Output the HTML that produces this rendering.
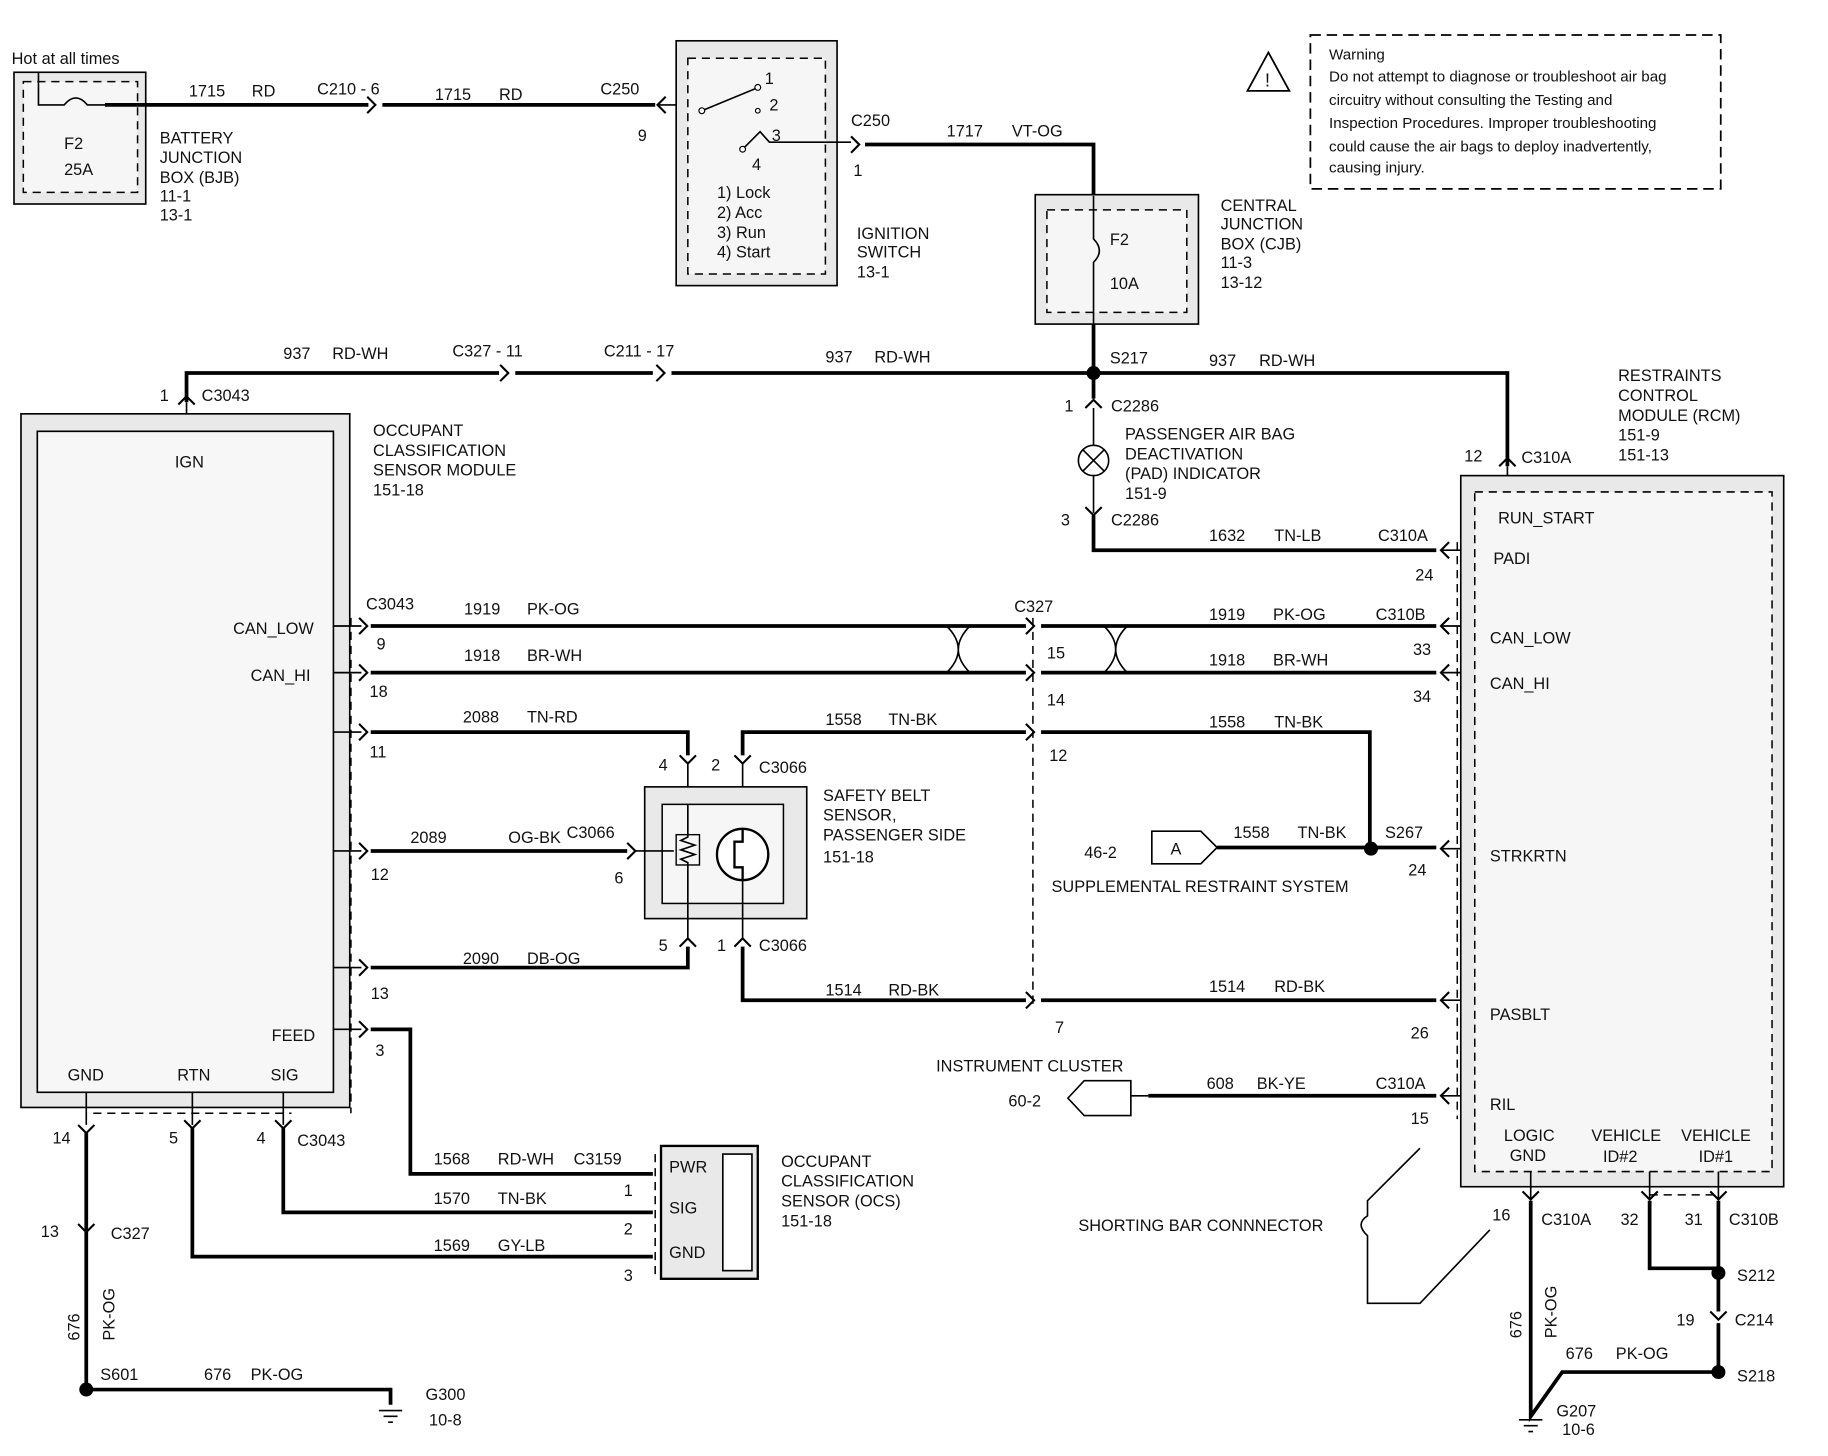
<!DOCTYPE html>
<html><head><meta charset="utf-8"><style>
html,body{margin:0;padding:0;background:#fff;}
svg{display:block;}
text{font-family:"Liberation Sans",Arial,sans-serif;font-size:14px;fill:#111;}
.w{stroke:#000;stroke-width:3.2;fill:none;}
.t{stroke:#000;stroke-width:1.4;fill:none;}
.d{stroke:#000;stroke-width:1.3;fill:none;stroke-dasharray:7 5;}
.a{stroke:#000;stroke-width:1.8;fill:none;}
.box{fill:#e9e9e9;stroke:#000;stroke-width:1.4;}
.inb{fill:#f6f6f6;stroke:#000;stroke-width:1.3;stroke-dasharray:7 5;}
.sm{font-size:13px;}
</style></head><body>
<svg width="1828" height="1456" viewBox="0 0 1568 1249" preserveAspectRatio="none" xmlns="http://www.w3.org/2000/svg">
<!-- BJB -->
<text x="10" y="55">Hot at all times</text>
<rect class="box" x="12" y="62" width="113" height="113"/>
<rect class="inb" x="20" y="70" width="98" height="95"/>
<path class="t" d="M33 62 V90 H55 Q65 78 75 90 H125"/>
<text x="55" y="128">F2</text><text x="55" y="150">25A</text>
<text x="137" y="123">BATTERY</text><text x="137" y="140">JUNCTION</text><text x="137" y="157">BOX (BJB)</text><text x="137" y="173">11-1</text><text x="137" y="189">13-1</text>
<path class="w" d="M90 90 H316"/><path class="a" d="M315 83 L322 90 L315 97"/>
<path class="w" d="M328 90 H562"/><path class="a" d="M571 83 L564 90 L571 97"/><path class="t" d="M564 90 H602"/>
<text x="162" y="83">1715</text><text x="216" y="83">RD</text><text x="272" y="81">C210 - 6</text>
<text x="373" y="86">1715</text><text x="428" y="86">RD</text><text x="515" y="81">C250</text><text x="547" y="121">9</text>
<!-- Ignition -->
<rect class="box" x="580" y="35" width="138" height="210"/>
<rect class="inb" x="590" y="50" width="118" height="185"/>
<path class="t" d="M602 95 L648 76"/><circle cx="602" cy="95" r="2.5" fill="#fff" stroke="#000"/>
<circle cx="650" cy="75" r="2.5" fill="#fff" stroke="#000"/><text x="656" y="72">1</text>
<circle cx="650" cy="95" r="2" fill="#fff" stroke="#000"/><text x="660" y="95">2</text>
<path class="t" d="M637 128 L652 113 L660 122 H730"/><circle cx="637" cy="128" r="2.5" fill="#fff" stroke="#000"/>
<text x="662" y="121">3</text><text x="645" y="146">4</text>
<text x="615" y="170">1) Lock</text><text x="615" y="187">2) Acc</text><text x="615" y="204">3) Run</text><text x="615" y="221">4) Start</text>
<text x="735" y="205">IGNITION</text><text x="735" y="221">SWITCH</text><text x="735" y="238">13-1</text>
<path class="a" d="M730 117 L737 124 L730 131"/>
<path class="w" d="M742 124 H938 V168"/>
<text x="730" y="108">C250</text><text x="732" y="151">1</text><text x="812" y="117">1717</text><text x="868" y="117">VT-OG</text>
<!-- CJB -->
<rect class="box" x="888" y="167" width="140" height="111"/>
<rect class="inb" x="898" y="180" width="120" height="88"/>
<path class="t" d="M938 168 V205 Q948 215 938 225 V278"/>
<text x="952" y="210">F2</text><text x="952" y="248">10A</text>
<text x="1047" y="181">CENTRAL</text><text x="1047" y="197">JUNCTION</text><text x="1047" y="214">BOX (CJB)</text><text x="1047" y="230">11-3</text><text x="1047" y="247">13-12</text>
<path class="w" d="M938 278 V320"/><circle cx="938" cy="320" r="6"/>
<text x="952" y="312">S217</text>
<!-- Warning -->
<path d="M1088 45 L1106 78 H1070 Z" fill="none" stroke="#000" stroke-width="1.5"/>
<text x="1085" y="74" style="font-size:16px">!</text>
<rect x="1124" y="30" width="352" height="132" fill="none" stroke="#000" stroke-width="1.5" stroke-dasharray="9 5"/>
<text class="sm" x="1140" y="51">Warning</text>
<text class="sm" x="1140" y="70">Do not attempt to diagnose or troubleshoot air bag</text>
<text class="sm" x="1140" y="90">circuitry without consulting the Testing and</text>
<text class="sm" x="1140" y="110">Inspection Procedures. Improper troubleshooting</text>
<text class="sm" x="1140" y="130">could cause the air bags to deploy inadvertently,</text>
<text class="sm" x="1140" y="148">causing injury.</text>
<!-- 937 -->
<path class="w" d="M160 345 V320 H428"/><path class="a" d="M429 313 L436 320 L429 327"/>
<path class="w" d="M442 320 H560"/><path class="a" d="M563 313 L570 320 L563 327"/>
<path class="w" d="M576 320 H1293 V400"/>
<path class="a" d="M153 347 L160 340 L167 347"/><path class="t" d="M160 345 V370"/>
<path class="a" d="M1286 400 L1293 393 L1300 400"/><path class="t" d="M1293 400 V422"/>
<text x="243" y="308">937</text><text x="285" y="308">RD-WH</text><text x="388" y="306">C327 - 11</text><text x="518" y="306">C211 - 17</text>
<text x="708" y="311">937</text><text x="750" y="311">RD-WH</text><text x="1037" y="314">937</text><text x="1080" y="314">RD-WH</text>
<text x="137" y="344">1</text><text x="173" y="344">C3043</text>
<text x="1256" y="396">12</text><text x="1305" y="397">C310A</text>
<text x="1388" y="327">RESTRAINTS</text><text x="1388" y="344">CONTROL</text><text x="1388" y="361">MODULE (RCM)</text><text x="1388" y="378">151-9</text><text x="1388" y="395">151-13</text>
<!-- PAD -->
<path class="w" d="M938 320 V342"/><path class="a" d="M931 350 L938 343 L945 350"/>
<path class="t" d="M938 350 V382"/>
<circle cx="938" cy="395" r="13" fill="#fff" stroke="#000" stroke-width="1.4"/>
<path class="t" d="M929 386 L947 404 M947 386 L929 404"/>
<path class="t" d="M938 408 V440"/><path class="a" d="M931 435 L938 442 L945 435"/>
<path class="w" d="M938 442 V472 H1232"/><path class="a" d="M1243 465 L1236 472 L1243 479"/><path class="t" d="M1236 472 H1265"/>
<text x="913" y="353">1</text><text x="953" y="353">C2286</text><text x="910" y="451">3</text><text x="953" y="451">C2286</text>
<text x="965" y="377">PASSENGER AIR BAG</text><text x="965" y="394">DEACTIVATION</text><text x="965" y="411">(PAD) INDICATOR</text><text x="965" y="428">151-9</text>
<text x="1037" y="464">1632</text><text x="1093" y="464">TN-LB</text><text x="1182" y="464">C310A</text><text x="1214" y="498">24</text>
<!-- OCSM -->
<rect class="box" x="18" y="355" width="282" height="595"/>
<rect x="32" y="370" width="254" height="567" fill="#f7f7f7" stroke="#000" stroke-width="1.4"/>
<text x="150" y="401">IGN</text><text x="200" y="544">CAN_LOW</text><text x="215" y="584">CAN_HI</text><text x="233" y="893">FEED</text>
<text x="58" y="927">GND</text><text x="152" y="927">RTN</text><text x="232" y="927">SIG</text>
<text x="320" y="374">OCCUPANT</text><text x="320" y="391">CLASSIFICATION</text><text x="320" y="408">SENSOR MODULE</text><text x="320" y="425">151-18</text>
<path class="d" d="M301 530 V955 M80 955 H250"/>
<!-- CAN -->
<path class="t" d="M286 537 H310 M286 577 H310 M286 628 H310 M286 730 H310 M286 830 H310 M286 883 H310"/>
<g class="a"><path d="M308 530 L315 537 L308 544"/><path d="M308 570 L315 577 L308 584"/><path d="M308 621 L315 628 L308 635"/><path d="M308 723 L315 730 L308 737"/><path d="M308 823 L315 830 L308 837"/><path d="M308 876 L315 883 L308 890"/></g>
<path class="w" d="M318 537 H880 M893 537 H1232"/><path class="w" d="M318 577 H880 M893 577 H1232"/>
<path class="a" d="M880 530 L887 537 L880 544 M880 570 L887 577 L880 584 M880 621 L887 628 L880 635 M880 851 L887 858 L880 865"/>
<path class="t" d="M812 537 Q822 547 822 557 Q822 567 812 577 M832 537 Q822 547 822 557 Q822 567 832 577 M947 537 Q957 547 957 557 Q957 567 947 577 M967 537 Q957 547 957 557 Q957 567 967 577"/>
<path class="a" d="M1243 530 L1236 537 L1243 544 M1243 570 L1236 577 L1243 584 M1243 721 L1236 728 L1243 735 M1243 851 L1236 858 L1243 865 M1243 933 L1236 940 L1243 947"/>
<path class="t" d="M1236 537 H1265 M1236 577 H1265 M1236 728 H1265 M1236 858 H1265 M1236 940 H1265"/>
<path class="d" d="M886 530 V862"/>
<text x="314" y="523">C3043</text><text x="398" y="527">1919</text><text x="452" y="527">PK-OG</text><text x="323" y="557">9</text>
<text x="870" y="525">C327</text><text x="1037" y="532">1919</text><text x="1092" y="532">PK-OG</text><text x="1180" y="532">C310B</text><text x="1212" y="562">33</text>
<text x="398" y="567">1918</text><text x="452" y="567">BR-WH</text><text x="317" y="598">18</text><text x="898" y="565">15</text><text x="898" y="605">14</text>
<text x="1037" y="571">1918</text><text x="1092" y="571">BR-WH</text><text x="1212" y="602">34</text>
<!-- 2088 / 1558 -->
<path class="w" d="M318 628 H590 V648"/><path class="a" d="M583 648 L590 655 L597 648"/><path class="t" d="M590 655 V690"/>
<path class="w" d="M637 648 V628 H880 M893 628 H1175 V728"/><path class="a" d="M630 648 L637 655 L644 648"/><path class="t" d="M637 655 V710"/>
<text x="397" y="620">2088</text><text x="452" y="620">TN-RD</text><text x="317" y="650">11</text><text x="565" y="661">4</text>
<text x="708" y="622">1558</text><text x="762" y="622">TN-BK</text><text x="610" y="661">2</text><text x="651" y="663">C3066</text><text x="900" y="653">12</text>
<text x="1037" y="624">1558</text><text x="1093" y="624">TN-BK</text>
<!-- safety belt sensor -->
<rect class="box" x="553" y="675" width="139" height="113"/>
<rect x="568" y="690" width="104" height="85" fill="#f6f6f6" stroke="#000" stroke-width="1.3"/>
<path class="w" d="M318 730 H538"/><path class="a" d="M538 723 L545 730 L538 737"/><path class="t" d="M545 730 H578"/>
<path class="t" d="M590 690 V718 L584 721 L596 725 L584 729 L596 733 L584 737 L590 740 V775"/>
<rect x="580" y="716" width="20" height="26" fill="none" stroke="#000" stroke-width="1.2"/>
<circle cx="637" cy="733" r="22" fill="#fff" stroke="#000" stroke-width="2"/>
<path class="t" d="M637 711 V722 H630 V744 H637 V755" style="stroke-width:2"/>
<text x="706" y="687">SAFETY BELT</text><text x="706" y="704">SENSOR,</text><text x="706" y="721">PASSENGER SIDE</text><text x="706" y="740">151-18</text>
<text x="352" y="723">2089</text><text x="436" y="723">OG-BK</text><text x="486" y="719">C3066</text><text x="318" y="755">12</text><text x="527" y="758">6</text>
<path class="w" d="M318 830 H590 V812"/><path class="a" d="M583 812 L590 805 L597 812"/><path class="t" d="M590 805 V775"/>
<path class="t" d="M637 805 V755"/><path class="a" d="M630 812 L637 805 L644 812"/>
<path class="w" d="M637 812 V858 H880 M893 858 H1232"/>
<text x="397" y="827">2090</text><text x="452" y="827">DB-OG</text><text x="318" y="857">13</text><text x="565" y="816">5</text>
<text x="615" y="816">1</text><text x="651" y="816">C3066</text>
<text x="708" y="854">1514</text><text x="762" y="854">RD-BK</text><text x="905" y="886">7</text>
<text x="1037" y="851">1514</text><text x="1093" y="851">RD-BK</text><text x="1210" y="891">26</text>
<!-- A connector -->
<path d="M988 713 H1030 L1044 727 L1030 741 H988 Z" fill="#fff" stroke="#000" stroke-width="1.4"/>
<text x="1004" y="733">A</text><text x="930" y="736">46-2</text>
<path class="w" d="M1044 727 H1232"/><circle cx="1176" cy="728" r="6"/>
<text x="1058" y="719">1558</text><text x="1113" y="719">TN-BK</text><text x="1188" y="719">S267</text><text x="1208" y="751">24</text>
<text x="902" y="765">SUPPLEMENTAL RESTRAINT SYSTEM</text>
<!-- Instrument cluster -->
<text x="803" y="919">INSTRUMENT CLUSTER</text><text x="865" y="949">60-2</text>
<path d="M916 942 L930 927 H970 V957 H930 Z" fill="#fff" stroke="#000" stroke-width="1.4"/>
<path class="t" d="M970 940 H985"/><path class="w" d="M985 940 H1232"/>
<text x="1035" y="934">608</text><text x="1078" y="934">BK-YE</text><text x="1180" y="934">C310A</text><text x="1210" y="964">15</text>
<!-- shorting bar -->
<path class="t" d="M1218 985 L1173 1030 V1043 Q1162 1050 1173 1060 V1118 H1218 L1278 1055"/>
<text x="925" y="1056">SHORTING BAR CONNNECTOR</text>
<!-- RCM -->
<rect class="box" x="1253" y="408" width="277" height="610"/>
<rect class="inb" x="1265" y="422" width="255" height="583"/>
<path class="d" d="M1250 465 V960"/>
<text x="1285" y="449">RUN_START</text><text x="1281" y="484">PADI</text><text x="1278" y="552">CAN_LOW</text><text x="1278" y="591">CAN_HI</text>
<text x="1278" y="739">STRKRTN</text><text x="1278" y="875">PASBLT</text><text x="1278" y="952">RIL</text>
<text x="1290" y="979">LOGIC</text><text x="1295" y="996">GND</text><text x="1365" y="979">VEHICLE</text><text x="1375" y="997">ID#2</text><text x="1442" y="979">VEHICLE</text><text x="1457" y="997">ID#1</text>
<path class="t" d="M1313 1005 V1028 M1415 1005 V1028 M1474 1005 V1028"/>
<path class="a" d="M1306 1022 L1313 1029 L1320 1022 M1408 1022 L1415 1029 L1422 1022 M1467 1022 L1474 1029 L1481 1022"/>
<path class="d" d="M1415 1025 H1474"/>
<path class="w" d="M1313 1030 V1215 L1340 1177 H1474 V1135 M1474 1030 V1125 M1415 1030 V1088 H1474"/>
<path class="a" d="M1467 1125 L1474 1132 L1481 1125"/>
<circle cx="1474" cy="1092" r="6"/><circle cx="1474" cy="1177" r="6"/>
<path class="t" d="M1303 1218 H1323 M1307 1223 H1319 M1311 1228 H1315"/>
<text x="1280" y="1047">16</text><text x="1322" y="1051">C310A</text><text x="1390" y="1051">32</text><text x="1445" y="1051">31</text><text x="1483" y="1051">C310B</text>
<text x="1490" y="1099">S212</text><text x="1438" y="1137">19</text><text x="1488" y="1137">C214</text><text x="1490" y="1185">S218</text>
<text x="1343" y="1166">676</text><text x="1386" y="1166">PK-OG</text><text x="1335" y="1215">G207</text><text x="1340" y="1231">10-6</text>
<text transform="translate(1305,1148) rotate(-90)">676</text><text transform="translate(1335,1148) rotate(-90)">PK-OG</text>
<!-- left bottom -->
<path class="t" d="M74 937 V965 M165 937 V965 M243 937 V965"/>
<path class="a" d="M67 965 L74 972 L81 965 M158 961 L165 968 L172 961 M236 961 L243 968 L250 961 M67 1050 L74 1057 L81 1050"/>
<path class="w" d="M74 972 V1192 H335 V1205 M165 968 V1078 H560 M243 968 V1040 H560 M318 883 H352 V1007 H560"/>
<circle cx="74" cy="1192" r="6"/>
<path class="t" d="M325 1210 H345 M329 1215 H341 M333 1220 H337"/>
<text x="45" y="981">14</text><text x="145" y="981">5</text><text x="220" y="981">4</text><text x="255" y="983">C3043</text>
<text x="35" y="1061">13</text><text x="95" y="1063">C327</text>
<text transform="translate(68,1150) rotate(-90)">676</text><text transform="translate(98,1150) rotate(-90)">PK-OG</text>
<text x="86" y="1184">S601</text><text x="175" y="1184">676</text><text x="215" y="1184">PK-OG</text><text x="365" y="1201">G300</text><text x="368" y="1223">10-8</text>
<text x="322" y="906">3</text>
<text x="372" y="999">1568</text><text x="427" y="999">RD-WH</text><text x="492" y="999">C3159</text><text x="535" y="1026">1</text>
<text x="372" y="1033">1570</text><text x="427" y="1033">TN-BK</text><text x="535" y="1059">2</text>
<text x="372" y="1073">1569</text><text x="427" y="1073">GY-LB</text><text x="535" y="1099">3</text>
<path class="d" d="M562 990 V1095"/>
<rect class="box" x="567" y="983" width="83" height="114" style="stroke-width:2"/>
<rect x="620" y="990" width="25" height="100" fill="#fff" stroke="#000" stroke-width="1.4"/>
<text x="574" y="1006">PWR</text><text x="574" y="1041">SIG</text><text x="574" y="1079">GND</text>
<text x="670" y="1001">OCCUPANT</text><text x="670" y="1018">CLASSIFICATION</text><text x="670" y="1035">SENSOR (OCS)</text><text x="670" y="1052">151-18</text>
</svg>
</body></html>
